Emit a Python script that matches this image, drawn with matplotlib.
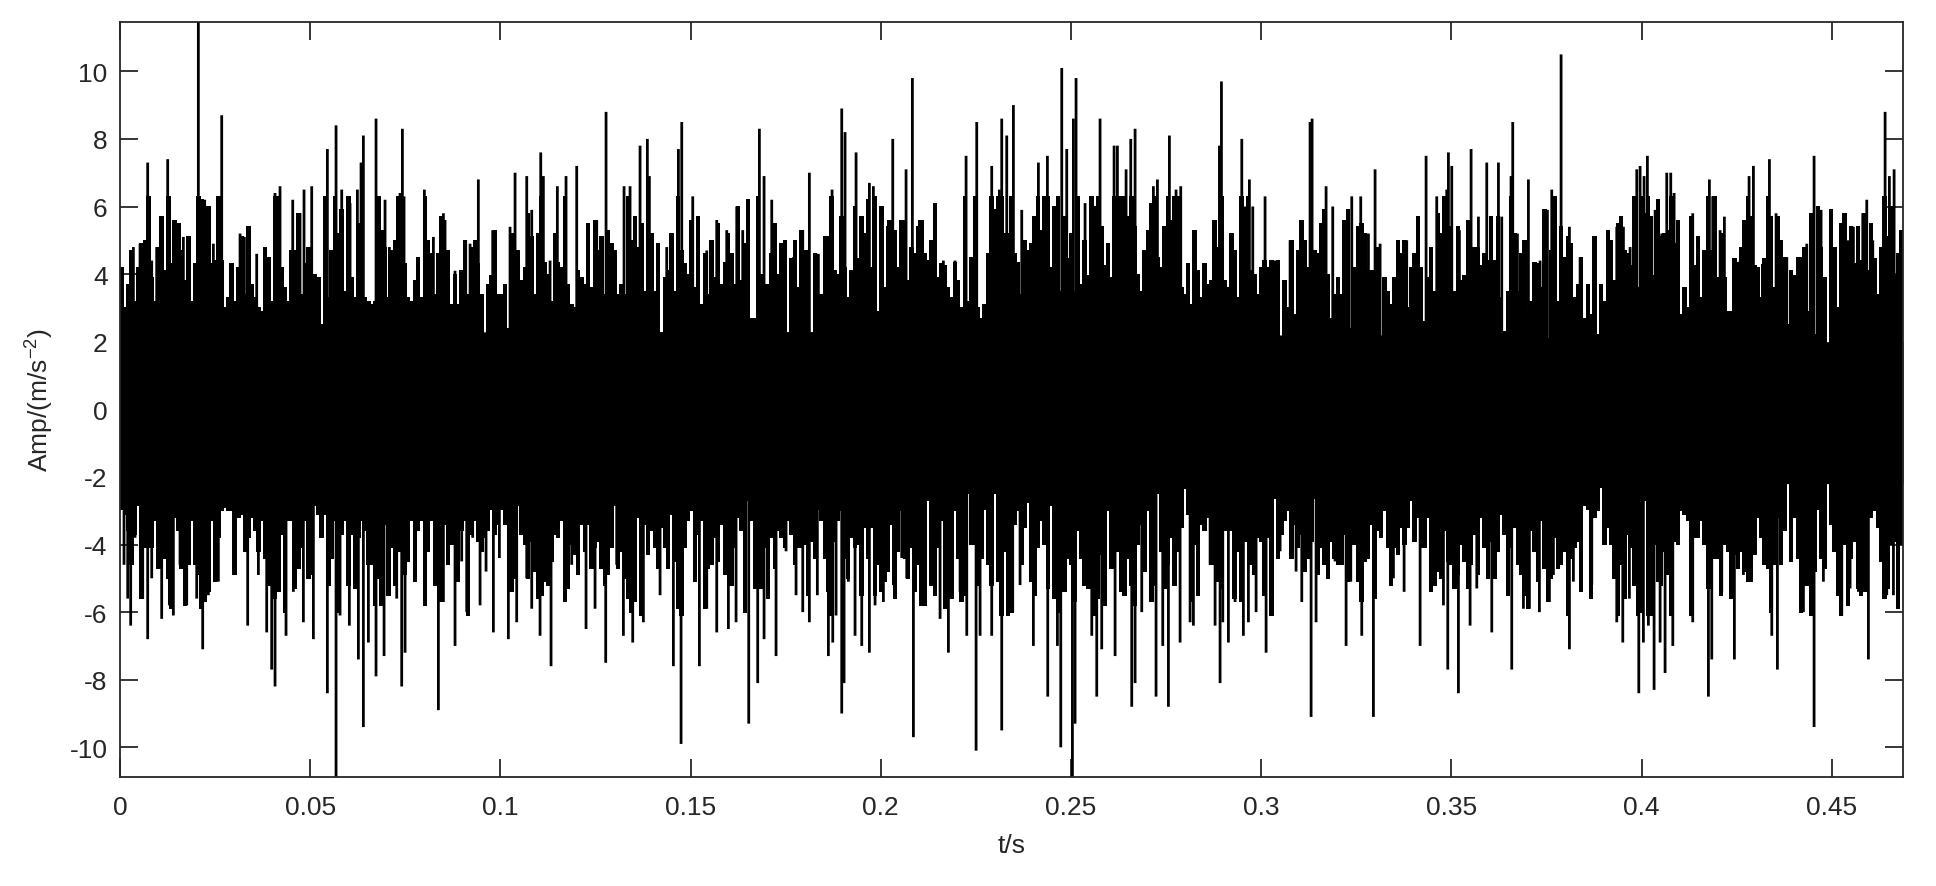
import numpy as np
import matplotlib
matplotlib.use("Agg")
import matplotlib.pyplot as plt

plt.rcParams['font.family'] = ['Liberation Sans', 'DejaVu Sans']
plt.rcParams['mathtext.default'] = 'regular'

# ---- data ----
t_end = 0.46875
y_min, y_max = -10.87, 11.47

# solid core of the signal (always black)
env_t = [0.00, 0.05, 0.10, 0.15, 0.20, 0.25, 0.30, 0.35, 0.40, 0.45, 0.46875]
env_hi = [2.2, 2.2, 2.3, 2.3, 2.3, 2.3, 2.2, 2.2, 2.0, 2.0, 2.0]
env_lo = [-2.2, -2.2, -2.0, -1.9, -2.4, -2.5, -1.9, -1.8, -2.2, -2.2, -2.2]

# ragged fringe of the signal: local max / min read every 0.000876 s
fringe_t0 = 0.000438
fringe_dt = 0.000876
fringe_hi = [
    4.2, 3.0, 3.7, 4.7, 3.2, 4.2, 4.9, 5.0, 6.3, 3.9,
    3.2, 4.8, 5.7, 4.1, 6.3, 4.3, 5.6, 5.5, 4.7, 3.8,
    5.1, 3.2, 4.3, 6.3, 6.2, 3.4, 6.0, 4.3, 4.4, 6.3,
    4.4, 3.0, 3.3, 4.3, 3.2, 4.2, 5.1, 3.4, 5.4, 3.7,
    3.3, 3.0, 2.9, 4.8, 4.5, 3.2, 6.3, 6.3, 4.2, 3.6,
    3.2, 4.7, 4.7, 5.8, 3.4, 4.3, 4.8, 3.3, 4.0, 3.9,
    2.5, 6.3, 3.3, 4.7, 6.3, 5.2, 5.9, 3.5, 6.3, 3.9,
    3.3, 5.5, 4.8, 3.3, 3.2, 3.1, 3.2, 6.3, 5.3, 4.8,
    3.3, 4.7, 5.0, 6.3, 3.3, 4.3, 3.3, 3.2, 3.8, 4.5,
    3.3, 6.3, 5.0, 4.6, 3.4, 4.6, 5.7, 3.4, 4.7, 3.1,
    4.0, 3.1, 4.1, 5.0, 3.4, 4.8, 5.0, 4.3,
    3.4, 2.2, 3.7, 3.95, 5.3, 3.4, 3.4, 3.7, 2.4, 5.2,
    4.1, 4.7, 3.8, 4.2, 5.8, 5.1, 3.4, 5.2, 6.3, 4.35,
    4.0, 3.2, 5.2, 4.35, 4.2, 6.3, 3.7, 3.1, 3.0, 4.1,
    3.9, 3.7, 5.5, 3.6, 5.6, 4.7, 5.1, 3.4, 5.3, 4.9,
    4.7, 3.4, 3.7, 3.4, 6.3, 5.0, 5.7, 4.8, 5.5, 3.5,
    5.0, 5.2, 3.5, 4.9, 2.2, 3.9, 4.1, 5.2, 3.5, 6.3,
    4.7, 4.3, 4.0, 5.6, 3.6, 5.7, 3.1, 4.6, 3.4, 5.0,
    3.9, 5.5, 3.7, 4.35, 5.2, 4.6, 3.7, 6.0, 3.8, 4.9,
    6.2, 2.7, 2.7, 6.3, 4.0, 3.7, 3.7, 4.6, 5.5, 4.0,
    4.9, 5.0, 2.2, 4.45, 5.0, 3.6, 5.3, 4.7, 4.7, 2.1,
    4.6, 2.5, 3.4, 5.1, 5.1, 6.3, 4.1, 4.0,
    5.7, 4.2, 3.3, 4.1, 6.0, 4.45, 5.7, 5.2, 6.2, 4.2,
    6.3, 2.9, 6.0, 3.6, 5.4, 5.6, 5.3, 4.2, 5.6, 5.6,
    3.8, 4.8, 4.6, 5.4, 5.6, 4.6, 4.4, 5.0, 6.1, 3.9,
    4.3, 4.25, 3.6, 3.3, 4.35, 3.8, 3.0, 6.3, 3.2, 4.5,
    6.3, 3.0, 2.7, 3.1, 4.6, 6.3, 5.9, 6.3, 6.3, 5.2,
    5.2, 6.3, 4.6, 4.35, 3.4, 5.0, 4.7, 4.9, 5.7, 6.3,
    5.3, 6.3, 6.3, 4.2, 6.0, 6.3, 3.5, 5.7, 4.45, 5.2,
    3.5, 6.3, 3.7, 5.0, 3.95, 6.3, 6.0, 6.3, 5.4, 4.25,
    4.9, 3.9, 6.3, 6.3, 6.3, 6.3, 5.7, 6.3, 5.4, 4.0,
    3.5, 4.7, 5.3, 6.1, 6.3, 4.5, 4.2, 5.4, 6.3, 5.6,
    6.3, 6.3, 3.6, 3.4, 4.3, 3.1, 5.3, 4.1,
    3.3, 4.3, 3.7, 3.8, 5.6, 4.8, 6.3, 3.8, 3.6, 5.2,
    4.7, 3.3, 6.3, 3.4, 6.3, 4.1, 4.0, 3.4, 4.2, 4.4,
    4.2, 4.4, 3.4, 4.4, 2.1, 3.8, 3.0, 5.0, 2.8, 4.7,
    5.6, 5.0, 4.2, 3.4, 4.7, 4.6, 5.5, 5.9, 4.0, 2.7,
    3.4, 3.9, 3.4, 5.6, 5.9, 2.4, 4.2, 5.4, 5.5, 5.2,
    4.1, 4.1, 4.1, 4.8, 2.0, 3.9, 3.5, 3.1, 3.9, 5.0,
    4.6, 5.0, 3.0, 4.2, 4.6, 5.7, 4.2, 2.6, 3.9, 4.8,
    3.5, 5.8, 5.2, 6.3, 3.95, 5.4, 3.5, 5.4, 3.8, 3.95,
    5.6, 2.3, 4.8, 4.8, 4.25, 4.6, 4.4, 5.7, 4.4, 5.7,
    3.3, 2.3, 3.5, 6.3, 5.2, 3.5, 4.6, 5.0, 2.8, 3.2,
    4.35, 4.3, 3.6, 5.9, 2.1, 4.7, 6.3, 3.2,
    5.4, 4.5, 5.1, 4.9, 3.3, 3.7, 4.5, 2.7, 3.7, 2.8,
    5.1, 2.2, 3.7, 3.2, 5.3, 5.0, 3.8, 5.5, 5.7, 4.7,
    4.6, 4.25, 6.3, 3.6, 6.3, 5.8, 6.3, 5.7, 3.95, 6.2,
    5.1, 5.2, 5.3, 6.3, 4.9, 5.6, 2.8, 3.6, 3.0, 5.7,
    4.25, 5.1, 3.3, 4.7, 6.3, 4.7, 6.3, 3.9, 5.2, 3.9,
    2.9, 2.9, 4.45, 4.35, 4.8, 5.6, 6.3, 5.7, 4.25, 4.2,
    3.3, 4.45, 6.3, 5.7, 3.6, 5.7, 5.0, 4.5, 2.5, 4.1,
    3.95, 4.5, 4.5, 4.8, 2.9, 5.8, 2.2, 6.0, 4.8, 3.9,
    1.6, 5.9, 4.8, 3.0, 5.5, 5.8, 4.9, 5.4, 4.3, 5.4,
    4.4, 5.8, 4.1, 5.5, 4.45, 3.4, 4.8, 6.3, 5.1, 6.0,
    3.95, 4.6, 5.3]
fringe_lo = [
    -2.95, -3.1, -3.6, -4.6, -3.7, -2.85, -5.6, -4.1, -3.2, -4.1,
    -3.3, -4.7, -3.6, -4.4, -5.0, -5.9, -3.2, -3.6, -4.7, -5.8,
    -4.6, -3.3, -4.6, -4.9, -5.9, -5.7, -5.4, -3.3, -5.1, -3.8,
    -3.0, -2.9, -3.0, -3.0, -4.9, -3.2, -3.1, -4.2, -3.8, -3.2,
    -3.6, -4.2, -3.3, -4.4, -5.2, -3.4, -5.6, -5.4, -3.7, -6.0,
    -3.3, -3.3, -5.3, -4.7, -4.1, -3.3, -5.0, -4.9, -2.85, -3.1,
    -3.8, -3.1, -5.2, -4.4, -3.3, -6.0, -3.7, -3.3, -5.2, -3.7,
    -5.3, -3.8, -3.3, -3.6, -4.6, -4.6, -5.8, -5.0, -5.8, -3.4,
    -5.5, -4.1, -5.2, -4.2, -3.3, -4.9, -4.5, -3.3, -5.1, -3.6,
    -3.3, -5.8, -4.2, -3.3, -5.2, -3.6, -5.7, -3.4, -4.6, -4.0,
    -3.3, -5.1, -3.6, -3.3, -6.1, -3.7, -3.3, -3.9,
    -4.2, -3.8, -3.6, -2.95, -3.7, -3.4, -2.95, -3.4, -2.4, -5.4,
    -5.0, -2.85, -3.7, -4.0, -5.0, -3.9, -4.8, -5.6, -5.5, -5.1,
    -5.2, -4.5, -3.7, -3.8, -3.3, -5.7, -5.3, -4.0, -4.3, -4.9,
    -3.4, -4.2, -3.4, -4.7, -4.1, -3.9, -4.7, -5.2, -4.9, -4.1,
    -2.85, -4.7, -4.2, -5.0, -5.6, -6.0, -5.7, -3.2, -6.1, -3.4,
    -4.3, -3.6, -4.1, -4.7, -3.5, -4.1, -4.7, -3.1, -4.5, -5.9,
    -6.1, -4.1, -3.3, -3.0, -5.1, -3.7, -3.3, -5.9, -4.7, -4.6,
    -3.8, -4.5, -3.4, -4.9, -4.4, -5.2, -4.1, -3.2, -3.6, -6.0,
    -2.7, -3.3, -5.3, -5.1, -5.3, -4.1, -5.6, -3.8, -4.7, -3.6,
    -3.8, -4.1, -3.3, -3.7, -4.6, -4.1, -4.1, -4.0, -5.5, -3.9,
    -4.4, -2.95, -3.3, -4.4, -5.4, -6.1, -3.9, -3.3,
    -3.0, -4.4, -5.0, -3.8, -4.1, -4.0, -5.5, -3.5, -4.4, -3.5,
    -5.5, -4.6, -5.4, -5.1, -4.8, -3.4, -5.6, -4.2, -3.0, -4.4,
    -5.0, -4.1, -5.4, -4.6, -5.8, -5.8, -2.7, -5.2, -5.5, -4.1,
    -3.3, -5.9, -4.4, -5.6, -3.0, -4.4, -5.7, -5.5, -2.5, -4.0,
    -4.0, -5.2, -4.4, -2.95, -4.6, -5.2, -2.5, -5.1, -6.1, -4.2,
    -6.1, -6.0, -3.4, -3.0, -4.6, -3.5, -2.75, -5.1, -5.5, -4.1,
    -3.3, -4.0, -5.3, -2.85, -5.6, -6.0, -4.2, -5.4, -4.4, -4.6,
    -5.7, -3.6, -4.4, -5.2, -5.3, -5.3, -6.1, -5.6, -4.3, -5.8,
    -3.0, -4.7, -3.6, -4.2, -5.4, -5.5, -4.4, -5.2, -5.8, -4.0,
    -3.4, -4.8, -3.0, -5.7, -5.2, -2.5, -4.2, -5.3, -4.6, -3.8,
    -5.2, -4.2, -3.5, -2.35, -3.1, -5.7, -4.0, -5.5,
    -3.4, -3.6, -3.2, -4.6, -4.6, -5.1, -5.3, -3.6, -3.2, -3.6,
    -5.6, -4.2, -5.7, -3.9, -3.9, -4.6, -4.9, -3.8, -3.9, -5.5,
    -3.8, -6.1, -2.65, -4.4, -3.7, -3.3, -3.0, -4.4, -3.4, -4.1,
    -3.7, -4.8, -4.4, -3.9, -2.65, -4.9, -4.1, -4.6, -5.0, -3.9,
    -4.4, -4.6, -4.6, -3.7, -5.1, -3.5, -4.0, -5.1, -5.7, -4.5,
    -4.4, -3.4, -5.6, -3.6, -3.8, -3.0, -4.1, -5.2, -4.1, -4.3,
    -3.5, -4.0, -3.5, -2.7, -3.9, -3.2, -4.1, -4.1, -3.2, -5.4,
    -5.2, -4.8, -5.0, -3.6, -4.5, -4.6, -5.3, -4.9, -4.0, -4.5,
    -5.3, -4.6, -3.7, -4.9, -3.2, -4.1, -5.0, -3.9, -5.0, -4.2,
    -3.1, -3.7, -5.5, -4.1, -3.5, -4.6, -4.9, -5.5, -5.9, -3.6,
    -4.2, -5.1, -3.3, -4.7, -5.7, -5.0, -3.8, -4.7,
    -4.6, -4.2, -6.1, -4.4, -4.1, -3.9, -5.4, -2.85, -2.95, -5.6,
    -3.2, -3.0, -2.3, -4.0, -3.5, -4.0, -5.0, -6.1, -4.6, -5.6,
    -3.7, -4.1, -5.2, -6.1, -6.0, -2.7, -6.1, -6.1, -4.0, -5.1,
    -5.2, -4.2, -4.9, -6.1, -3.9, -4.0, -3.0, -3.1, -3.3, -6.1,
    -3.8, -3.8, -3.3, -4.0, -5.3, -5.3, -4.4, -4.4, -5.5, -4.0,
    -4.2, -5.6, -4.3, -4.7, -4.2, -4.8, -5.1, -5.1, -4.3, -3.2,
    -3.8, -4.6, -4.7, -6.0, -4.6, -3.2, -4.6, -3.6, -1.4, -4.5,
    -3.2, -4.4, -6.0, -5.2, -5.2, -6.1, -4.8, -2.95, -4.4, -4.7,
    -2.2, -3.4, -4.2, -5.5, -6.1, -4.0, -5.8, -4.4, -3.9, -5.3,
    -5.5, -5.4, -3.0, -3.2, -3.0, -3.5, -4.5, -5.6, -5.3, -4.0,
    -3.9, -5.9, -4.0]

# tall positive peaks: times (s) and amplitudes
up_t = [0.00307, 0.00351, 0.00526, 0.00657, 0.00727, 0.00833, 0.00964, 0.01078, 0.01253, 0.01402,
        0.01472, 0.01665, 0.01823, 0.02059, 0.02165, 0.02226, 0.02349, 0.02454, 0.02585, 0.02673,
        0.03155, 0.03269, 0.03374, 0.03593, 0.03856, 0.04075, 0.04206, 0.04540, 0.04732, 0.04837,
        0.05039, 0.05451, 0.05679, 0.05828, 0.06047, 0.06240, 0.06336, 0.06397, 0.06730, 0.06818,
        0.06967, 0.07081, 0.07300, 0.07361, 0.07423, 0.07466, 0.08001, 0.08238, 0.08501, 0.08544,
        0.08807,
        0.09026, 0.09088, 0.09202, 0.09377, 0.09420, 0.09798, 0.10253, 0.10385, 0.10692, 0.10823,
        0.10998, 0.11060, 0.11129, 0.11305, 0.11497, 0.11725, 0.12006, 0.12295, 0.12532, 0.12777,
        0.12882, 0.13250, 0.13408, 0.13539, 0.13671, 0.13863, 0.13916, 0.14372, 0.14679, 0.14767,
        0.15056, 0.15204, 0.15424, 0.15687, 0.15950, 0.16213, 0.16370, 0.16519, 0.16808, 0.16931,
        0.17133, 0.17483, 0.17702, 0.17948, 0.18122, 0.18359, 0.18535,
        0.18719, 0.18973, 0.19060, 0.19350, 0.19499, 0.19700, 0.19805, 0.20024, 0.20200, 0.20314,
        0.20550, 0.20664, 0.20830, 0.21014, 0.21426, 0.21645, 0.21952, 0.22242, 0.22522, 0.22916,
        0.23117, 0.23179, 0.23311, 0.23486, 0.23705, 0.23942, 0.24143, 0.24380, 0.24625, 0.24757,
        0.24888, 0.25063, 0.25133, 0.25370, 0.25642, 0.25764, 0.26133, 0.26220, 0.26448, 0.26571,
        0.26685, 0.27166, 0.27272, 0.27587, 0.27762, 0.27885,
        0.28262, 0.28525, 0.28744, 0.28902, 0.28955, 0.29227, 0.29490, 0.29577, 0.29690, 0.29779,
        0.30102, 0.30366, 0.30760, 0.31067, 0.31285, 0.31338, 0.31530, 0.31706, 0.31881, 0.32205,
        0.32381, 0.32617, 0.32819, 0.32994, 0.33126, 0.33607, 0.33826, 0.34133, 0.34335, 0.34615,
        0.34878, 0.34922, 0.35010, 0.35211, 0.35518, 0.35711, 0.35930, 0.36237, 0.36324, 0.36569,
        0.36613, 0.36736, 0.37025, 0.37332, 0.37525,
        0.37639, 0.37884, 0.37963, 0.38103, 0.38384, 0.38734, 0.39129, 0.39348, 0.39523, 0.39698,
        0.39874, 0.39961, 0.40066, 0.40153, 0.40356, 0.40531, 0.40662, 0.40767, 0.40855, 0.41345,
        0.41494, 0.41783, 0.41871, 0.42064, 0.42177, 0.42590, 0.42826, 0.42940, 0.43177, 0.43361,
        0.43536, 0.43641, 0.43818, 0.44343, 0.44535, 0.44719, 0.45263, 0.45437, 0.45569, 0.45815,
        0.45920, 0.46078, 0.46402, 0.46515, 0.46639, 0.46814]
up_v = [4.7, 4.8, 4.9, 5.0, 7.3, 4.4, 4.8, 5.7, 7.4, 5.6,
        5.3, 5.1, 5.1, 11.47, 6.2, 6.2, 5.9, 4.9, 6.0, 8.7,
        5.2, 5.1, 5.4, 4.6, 4.5, 6.4, 6.6, 6.2, 5.8, 6.5,
        6.6, 7.7, 8.4, 6.5, 6.1, 6.5, 7.3, 8.1, 8.6, 5.4,
        6.2, 4.8, 5.9, 6.4, 8.3, 6.3, 6.5, 5.1, 5.8, 5.6,
        4.1,
        4.1, 5.0, 4.9, 4.9, 6.8, 5.3, 5.4, 7.0, 6.9, 5.9,
        5.2, 7.6, 6.9, 4.4, 6.6, 6.9, 7.2, 4.7, 5.6, 8.8,
        4.9, 6.6, 6.6, 5.7, 7.8, 8.0, 6.9, 4.8, 7.7, 8.5,
        6.3, 5.7, 4.7, 5.6, 5.3, 6.0, 5.3, 6.2, 8.3, 6.9,
        6.2, 5.0, 4.5, 5.3, 7.0, 4.6, 5.1,
        6.5, 8.9, 8.2, 7.6, 5.7, 6.7, 6.6, 6.0, 5.6, 8.0,
        5.6, 7.1, 9.8, 5.6, 6.1, 4.4, 4.4, 7.5, 8.5, 7.2,
        6.5, 8.6, 8.1, 9.0, 5.9, 4.7, 7.3, 7.5, 6.0, 10.1,
        7.7, 8.6, 9.8, 6.1, 5.9, 8.6, 7.8, 7.8, 7.1, 8.0,
        8.3, 6.6, 6.8, 8.1, 6.5, 6.6,
        5.3, 4.3, 5.6, 7.8, 9.7, 5.1, 8.0, 6.0, 6.8, 6.0,
        6.3, 4.4, 5.0, 5.6, 8.5, 8.6, 4.6, 6.6, 6.0, 5.6,
        6.3, 6.3, 5.2, 7.1, 4.9, 5.0, 5.0, 5.7, 7.5, 6.3,
        6.5, 7.6, 7.2, 5.3, 7.7, 5.7, 7.3, 7.3, 5.7, 6.9,
        8.5, 5.2, 6.8, 4.4, 5.9,
        6.5, 10.5, 4.5, 5.4, 4.5, 5.1, 5.3, 5.4, 5.4, 4.8,
        7.1, 7.2, 6.9, 7.5, 5.9, 5.2, 7.0, 7.0, 6.4, 5.8,
        5.1, 6.8, 6.3, 5.3, 5.7, 4.4, 6.9, 7.2, 4.3, 7.4,
        5.8, 5.0, 4.5, 4.9, 7.5, 5.9, 5.5, 5.0, 5.4, 5.8,
        6.2, 5.0, 8.8, 6.9, 7.1, 5.3]

# deep negative peaks: times (s) and amplitudes
dn_t = [0.00105, 0.00202, 0.00280, 0.00394, 0.00596, 0.00727, 0.00833, 0.01095, 0.01297, 0.01402,
        0.01577, 0.01753, 0.02016, 0.02173, 0.02322, 0.02585, 0.02980, 0.03356, 0.03637, 0.03856,
        0.03987, 0.04075, 0.04163, 0.04364, 0.04557, 0.04820, 0.05083, 0.05451, 0.05679, 0.05784,
        0.06029, 0.06266, 0.06397, 0.06529, 0.06730, 0.06941, 0.07274, 0.07405, 0.07493, 0.08019,
        0.08369, 0.08501, 0.08807,
        0.08982, 0.09114, 0.09271, 0.09465, 0.09622, 0.09815, 0.09973, 0.10209, 0.10297, 0.10428,
        0.10692, 0.10823, 0.11042, 0.11217, 0.11331, 0.11699, 0.11874, 0.12251, 0.12488, 0.12768,
        0.13057, 0.13233, 0.13478, 0.13758, 0.14197, 0.14547, 0.14749, 0.15231, 0.15424, 0.15687,
        0.15993, 0.16195, 0.16528, 0.16764, 0.16931, 0.17246, 0.17509, 0.17772, 0.17948, 0.18122,
        0.18332, 0.18622,
        0.18737, 0.18824, 0.18973, 0.19034, 0.19148, 0.19323, 0.19499, 0.19700, 0.19849, 0.20068,
        0.20331, 0.20550, 0.20682, 0.20857, 0.21120, 0.21558, 0.21777, 0.22084, 0.22260, 0.22505,
        0.22610, 0.22916, 0.23179, 0.23468, 0.23661, 0.24011, 0.24389, 0.24643, 0.24731, 0.25037,
        0.25107, 0.25546, 0.25677, 0.25808, 0.26159, 0.26422, 0.26597, 0.26685, 0.26860, 0.27236,
        0.27412, 0.27561, 0.27868,
        0.28131, 0.28218, 0.28323, 0.28657, 0.28788, 0.28919, 0.28990, 0.29138, 0.29313, 0.29532,
        0.29664, 0.29866, 0.30129, 0.30278, 0.30497, 0.30917, 0.31067, 0.31312, 0.31443, 0.31724,
        0.31942, 0.32232, 0.32355, 0.32644, 0.32950, 0.33476, 0.33757, 0.34178, 0.34528, 0.34791,
        0.34905, 0.35185, 0.35492, 0.35668, 0.36062, 0.36587, 0.36894, 0.37051, 0.37314, 0.37577,
        0.37682, 0.37858, 0.38103, 0.38208, 0.38691, 0.39348, 0.39506, 0.39680, 0.39927, 0.40048,
        0.40179, 0.40329, 0.40487, 0.40618, 0.40821, 0.41345, 0.41757, 0.41845, 0.42108, 0.42440,
        0.42677, 0.42853, 0.43423, 0.43571, 0.44255, 0.44535, 0.44780, 0.45263, 0.45481, 0.45700,
        0.45963, 0.46446, 0.46621, 0.46752]
dn_v = [-4.6, -5.6, -6.4, -3.8, -5.6, -6.8, -5.0, -6.2, -5.8, -6.1,
        -4.6, -5.8, -5.6, -7.1, -5.5, -5.1, -4.9, -6.4, -4.9, -6.6,
        -7.7, -8.2, -5.4, -6.7, -5.4, -6.3, -6.8, -8.4, -10.87, -6.1,
        -6.4, -7.4, -9.4, -6.9, -7.9, -7.3, -5.6, -8.2, -7.2, -5.8,
        -8.9, -5.7, -7.0,
        -4.5, -6.0, -3.8, -5.8, -4.8, -6.6, -4.4, -6.8, -5.4, -6.3,
        -5.0, -5.9, -6.7, -5.1, -7.6, -5.7, -4.6, -6.5, -5.9, -7.5,
        -4.6, -6.7, -6.9, -6.3, -5.5, -7.6, -9.9, -7.6, -5.9, -6.6,
        -6.5, -6.3, -9.3, -8.1, -6.8, -7.3, -4.2, -5.5, -6.0, -6.3,
        -5.5, -7.3,
        -6.9, -6.1, -9.0, -8.1, -5.1, -6.7, -7.0, -7.2, -5.8, -5.7,
        -5.2, -4.4, -5.0, -9.7, -5.7, -6.2, -7.2, -5.4, -6.7, -10.1,
        -6.7, -6.7, -9.5, -6.0, -5.2, -7.0, -8.5, -7.0, -10.0, -10.87,
        -9.3, -6.7, -8.5, -7.1, -7.3, -5.4, -8.8, -8.1, -6.0, -8.5,
        -7.0, -8.8, -6.9,
        -6.3, -6.4, -4.3, -4.6, -6.4, -8.1, -6.3, -6.9, -5.7, -6.7,
        -6.3, -6.0, -7.2, -6.0, -4.2, -4.8, -5.7, -9.1, -6.3, -4.5,
        -4.5, -7.0, -5.1, -6.7, -9.1, -5.0, -5.4, -7.0, -5.2, -5.8,
        -7.7, -8.4, -6.4, -5.3, -6.6, -7.7, -5.9, -5.9, -6.0, -5.7,
        -4.9, -4.3, -7.1, -5.1, -5.2, -6.3, -6.9, -5.6, -8.4, -6.9,
        -6.4, -8.3, -6.9, -7.8, -7.0, -6.3, -8.5, -7.4, -5.4, -7.4,
        -4.9, -5.1, -6.7, -7.7, -6.0, -9.4, -5.1, -6.1, -5.3, -5.4,
        -7.4, -5.5, -5.5, -5.8]

x_ticks = [0, 0.05, 0.1, 0.15, 0.2, 0.25, 0.3, 0.35, 0.4, 0.45]
x_ticklabels = ['0', '0.05', '0.1', '0.15', '0.2', '0.25', '0.3', '0.35', '0.4', '0.45']
y_ticks = [-10, -8, -6, -4, -2, 0, 2, 4, 6, 8, 10]
y_ticklabels = ['-10', '-8', '-6', '-4', '-2', '0', '2', '4', '6', '8', '10']

# ---- drawing ----
axc = '#262626'
fig = plt.figure(figsize=(19.36, 8.87), dpi=100)
ax = fig.add_axes([0.062, 0.1232, 0.921, 0.8513])

fringe_t = fringe_t0 + fringe_dt * np.arange(len(fringe_hi))
ax.fill_between(env_t, env_lo, env_hi, color='black', linewidth=0, antialiased=False)
for lo, hi in [(0, fringe_hi), (fringe_lo, 0)]:
    lc = ax.vlines(fringe_t, lo, hi, color='black', linewidth=2.5, antialiased=False)
    lc.set_snap(False)
lc = ax.vlines(up_t, 0, up_v, color='black', linewidth=2.0)
lc.set_snap(False)
lc = ax.vlines(dn_t, dn_v, 0, color='black', linewidth=2.0)
lc.set_snap(False)

ax.set_xlim(0, t_end)
ax.set_ylim(y_min, y_max)
ax.set_xticks(x_ticks)
ax.set_xticklabels(x_ticklabels)
ax.set_yticks(y_ticks)
ax.set_yticklabels(y_ticklabels)

for s in ax.spines.values():
    s.set_linewidth(1.3)
    s.set_color(axc)
    s.set_zorder(5)
ax.tick_params(direction='in', length=13, width=1.3, color=axc,
               labelcolor=axc, labelsize=19, top=True, right=True)
ax.tick_params(axis='x', pad=13)
ax.tick_params(axis='y', pad=9)

ax.set_xlabel('t/s', fontsize=19, color=axc)
ax.set_ylabel('Amp/(m/s$^{-2}$)', fontsize=19, color=axc)
ax.xaxis.set_label_coords(0.5, -0.074)
ax.yaxis.set_label_coords(-0.036, 0.5)

fig.savefig('out.png', dpi=100, facecolor='white')
